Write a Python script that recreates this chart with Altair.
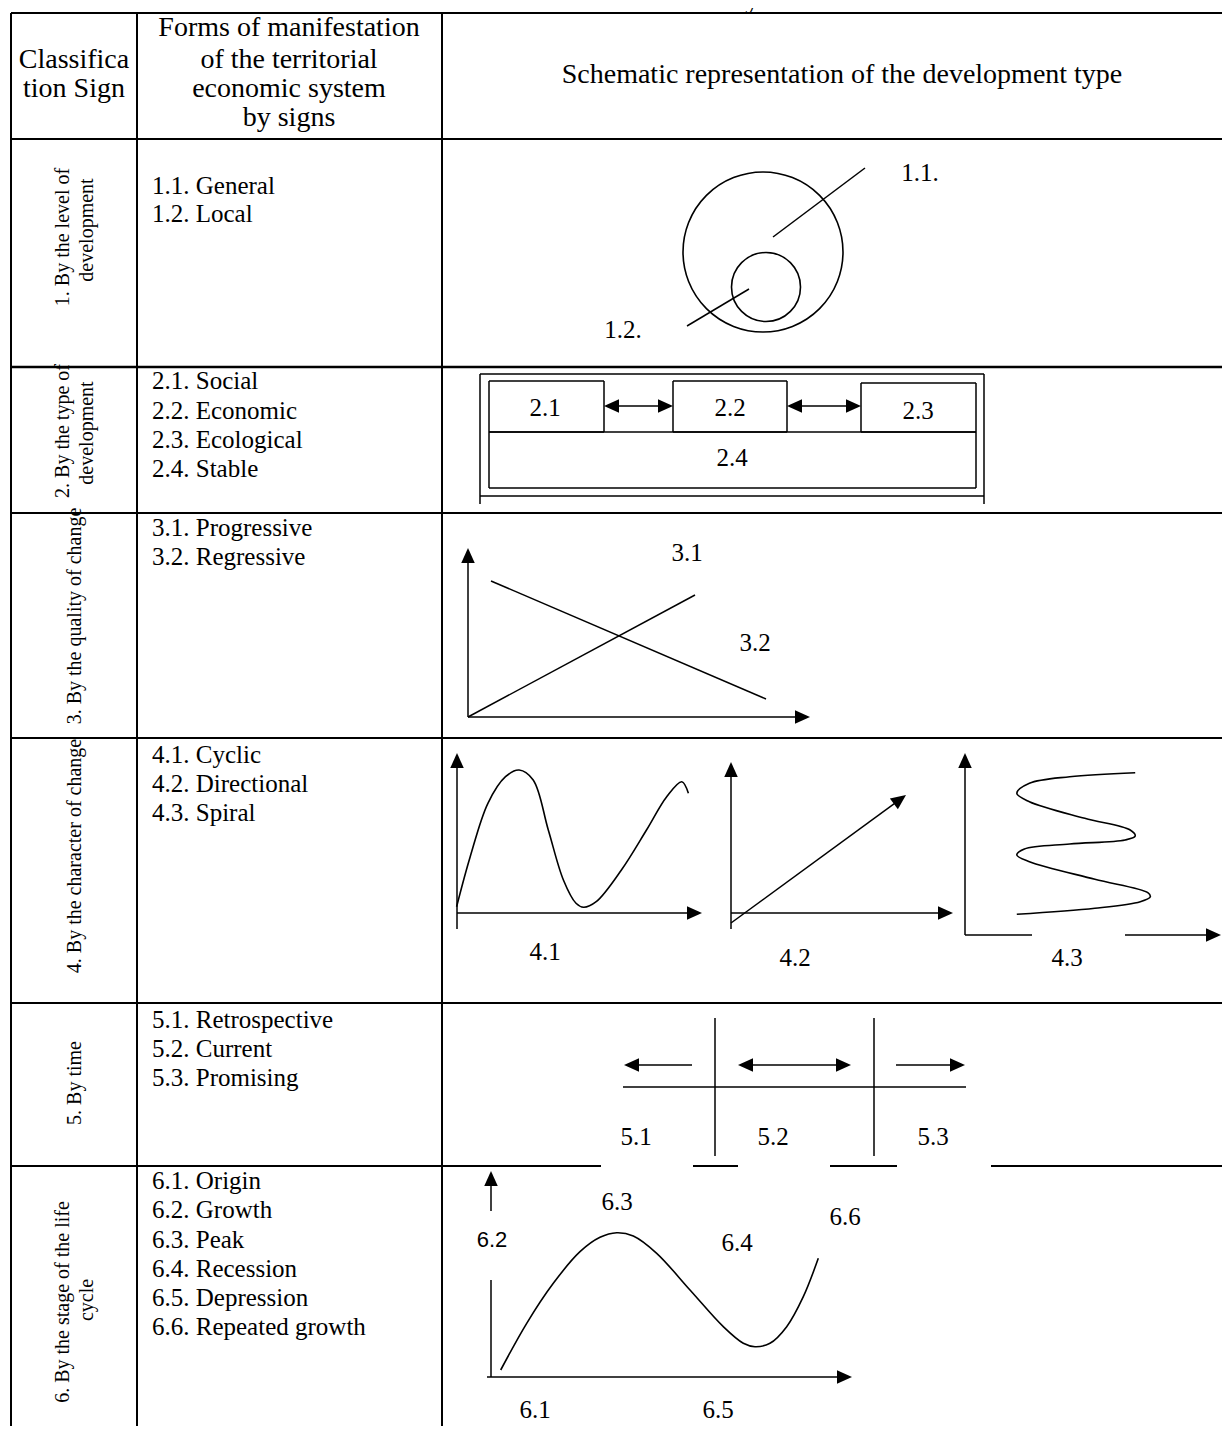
import math
import altair as alt
import pandas as pd

# ---------------- canvas (diagram coordinates = reference pixels) ----------------
W, H = 1214, 1418
X0, Y0 = 8, 8
SERIF = "Liberation Serif"
SANS = "Liberation Sans"

# ---------------- table grid ----------------
# (x1, y1, x2, y2, stroke width)
TABLE_LINES = [
    (11, 13, 1230, 13, 2),
    (11, 139, 1230, 139, 2),
    (11, 367, 1230, 367, 2.5),
    (11, 513, 1230, 513, 2),
    (11, 738, 1230, 738, 2),
    (11, 1003, 1230, 1003, 2),
    (11, 1166, 601, 1166, 2), (693, 1166, 738, 1166, 2),
    (830, 1166, 897, 1166, 2), (991, 1166, 1230, 1166, 2),
    (11, 13, 11, 1434, 2),
    (137, 13, 137, 1434, 2),
    (442, 13, 442, 1434, 2),
]

# ---------------- schematic line segments (no heads) ----------------
LINES = [
    # 1. leader lines
    (773, 237, 865, 168), (687, 326, 749, 289),
    # 2. outer frame
    (480, 374, 984, 374), (480, 374, 480, 504), (984, 374, 984, 504), (480, 496, 984, 496),
    # 3. lines 3.1 and 3.2
    (468, 717, 695, 595), (491, 581, 766, 699),
    # 4.3 broken horizontal axis
    (965, 935, 1032, 935),
    # 5. time axis
    (623, 1087, 966, 1087), (715, 1018, 715, 1156), (874, 1018, 874, 1156),
    # 6. vertical axis stub
    (491, 1280, 491, 1377),
]

# boxes of row 2: (x1, y1, x2, y2)
BOXES = [
    (489, 381, 604, 432), (673, 381, 787, 432), (861, 383, 976, 432), (489, 432, 976, 488),
]

# arrows: (x_from, y_from, x_tip, y_tip, both_heads)
ARROWS = [
    (604, 406, 673, 406, True), (787, 406, 861, 406, True),
    (468, 717, 468, 548, False), (468, 717, 810, 717, False),
    (457, 929, 457, 753, False), (457, 913, 702, 913, False),
    (731, 929, 731, 762, False), (731, 913, 953, 913, False), (731, 923, 906, 795, False),
    (965, 935, 965, 753, False), (1125, 935, 1221, 935, False),
    (692, 1065, 624, 1065, False), (738, 1065, 851, 1065, True), (896, 1065, 965, 1065, False),
    (491, 1211, 491, 1171, False), (487, 1377, 852, 1377, False),
]

# circles: (cx, cy, diameter)
CIRCLES = [(763, 252, 160), (766, 287, 69)]

# curves
CURVE_41 = [(456.6, 906.7), (470.2, 856.7), (487.9, 803.3), (505.5, 776.7), (519.1, 770.0),
            (533.2, 780.0), (548.3, 830.0), (563.4, 880.0), (576.0, 903.3), (583.6, 907.3),
            (596.2, 901.7), (621.4, 870.0), (646.5, 830.0), (666.7, 796.7), (681.8, 781.7),
            (688.4, 793.3)]
CURVE_43 = [(1135.2, 772.7), (1069.7, 776.7), (1029.4, 783.3), (1016.8, 793.3), (1029.4, 801.7),
            (1084.8, 818.3), (1130.2, 830.0), (1135.2, 836.0), (1125.1, 840.0), (1069.7, 844.0),
            (1024.4, 849.0), (1016.8, 855.0), (1029.4, 861.7), (1094.9, 879.3), (1147.8, 892.7),
            (1150.3, 896.7), (1140.3, 901.7), (1094.9, 908.3), (1016.8, 914.3)]
CURVE_6 = [(500.7, 1370.0), (526.7, 1323.3), (553.3, 1283.3), (580.0, 1251.7), (600.0, 1237.3),
           (616.7, 1232.7), (633.3, 1236.0), (656.7, 1253.3), (690.0, 1290.0), (723.3, 1326.7),
           (743.3, 1343.3), (755.0, 1346.7), (770.0, 1343.3), (786.7, 1326.7), (803.3, 1296.7),
           (818.3, 1258.3)]

# ---------------- texts ----------------
TITLE = [("of the Territorial Economic System", 615, 0)]
HEADER = [
    ("Classifica", 74, 60), ("tion Sign", 74, 89),
    ("Forms of manifestation", 289, 28), ("of the territorial", 289, 60),
    ("economic system", 289, 89), ("by signs", 289, 118),
    ("Schematic representation of the development type", 842, 75),
]
ROTATED = [
    ("1. By the level of", 63, 237), ("development", 87, 230),
    ("2. By the type of", 63, 431), ("development", 87, 433),
    ("3. By the quality of change", 75, 616),
    ("4. By the character of change", 75, 856),
    ("5. By time", 75, 1083),
    ("6. By the stage of the life", 63, 1302), ("cycle", 87, 1300),
]
ITEMS = [
    ("1.1. General", 186), ("1.2. Local", 214),
    ("2.1. Social", 381), ("2.2. Economic", 411), ("2.3. Ecological", 440), ("2.4. Stable", 469),
    ("3.1. Progressive", 528), ("3.2. Regressive", 557),
    ("4.1. Cyclic", 755), ("4.2. Directional", 784), ("4.3. Spiral", 813),
    ("5.1. Retrospective", 1020), ("5.2. Current", 1049), ("5.3. Promising", 1078),
    ("6.1. Origin", 1181), ("6.2. Growth", 1210), ("6.3. Peak", 1240),
    ("6.4. Recession", 1269), ("6.5. Depression", 1298), ("6.6. Repeated growth", 1327),
]
ITEM_X = 152
LABELS = [
    ("1.1.", 920, 173), ("1.2.", 623, 330),
    ("2.1", 545, 408), ("2.2", 730, 408), ("2.3", 918, 411), ("2.4", 732, 458),
    ("3.1", 687, 553), ("3.2", 755, 643),
    ("4.1", 545, 952), ("4.2", 795, 958), ("4.3", 1067, 958),
    ("5.1", 636, 1137), ("5.2", 773, 1137), ("5.3", 933, 1137),
    ("6.3", 617, 1202), ("6.4", 737, 1243), ("6.6", 845, 1217),
    ("6.1", 535, 1410), ("6.5", 718, 1410),
]
LABELS_SANS = [("6.2", 492, 1240)]

# ---------------- scales ----------------
xs = alt.Scale(domain=[X0, X0 + W], nice=False, zero=False)
ys = alt.Scale(domain=[Y0, Y0 + H], nice=False, zero=False, reverse=True)


def ex(f="x"):
    return alt.X(f"{f}:Q", scale=xs, axis=None)


def ey(f="y"):
    return alt.Y(f"{f}:Q", scale=ys, axis=None)


# ---------------- build tables ----------------
seg_rows = []
for x1, y1, x2, y2, w in TABLE_LINES:
    seg_rows.append(dict(x=x1, y=y1, x2=x2, y2=y2, w=w))
for x1, y1, x2, y2 in LINES:
    seg_rows.append(dict(x=x1, y=y1, x2=x2, y2=y2, w=1.5))
for x1, y1, x2, y2 in BOXES:
    for a, b, c, d in [(x1, y1, x2, y1), (x2, y1, x2, y2), (x1, y2, x2, y2), (x1, y1, x1, y2)]:
        seg_rows.append(dict(x=a, y=b, x2=c, y2=d, w=1.5))

head_rows = []
HEAD_BACK = 6
for x1, y1, x2, y2, both in ARROWS:
    L = math.hypot(x2 - x1, y2 - y1)
    ux, uy = (x2 - x1) / L, (y2 - y1) / L
    ang = math.degrees(math.atan2(y2 - y1, x2 - x1)) % 360
    head_rows.append(dict(x=x2, y=y2, a=ang))
    sx, sy = x1, y1
    if both:
        head_rows.append(dict(x=x1, y=y1, a=(ang + 180) % 360))
        sx, sy = x1 + ux * HEAD_BACK, y1 + uy * HEAD_BACK
    seg_rows.append(dict(x=sx, y=sy, x2=x2 - ux * HEAD_BACK, y2=y2 - uy * HEAD_BACK, w=1.5))

seg_df = pd.DataFrame(seg_rows)
head_df = pd.DataFrame(head_rows)
circ_df = pd.DataFrame([dict(x=cx, y=cy, s=d * d) for cx, cy, d in CIRCLES])

curve_rows = []
for name, pts in [("c41", CURVE_41), ("c43", CURVE_43), ("c6", CURVE_6)]:
    for i, (px, py) in enumerate(pts):
        curve_rows.append(dict(c=name, i=i, x=px, y=py))
curve_df = pd.DataFrame(curve_rows)

# ---------------- layers ----------------
segments = alt.Chart(seg_df).mark_rule(color="black").encode(
    x=ex(), y=ey(), x2="x2:Q", y2="y2:Q",
    strokeWidth=alt.StrokeWidth("w:Q", scale=None),
)

ARROW_PATH = "M0,0L-2,-0.9L-2,0.9Z"
heads = alt.Chart(head_df).mark_point(
    shape=ARROW_PATH, filled=True, color="black", opacity=1, size=225, strokeWidth=0
).encode(x=ex(), y=ey(), angle=alt.Angle("a:Q", scale=None))

circles = alt.Chart(circ_df).mark_point(
    shape="circle", filled=False, color="black", opacity=1, strokeWidth=1.6
).encode(x=ex(), y=ey(), size=alt.Size("s:Q", scale=None))

curves = alt.Chart(curve_df).mark_line(
    color="black", strokeWidth=1.6, interpolate="catmull-rom"
).encode(x=ex(), y=ey(), detail="c:N", order=alt.Order("i:Q"))


def text_layer(rows, size, font=SERIF, align="center", angle=0, clip=False):
    df = pd.DataFrame(rows, columns=["t", "x", "y"])
    kw = dict(font=font, fontSize=size, align=align, baseline="middle", color="black")
    if angle:
        kw["angle"] = angle
    if clip:
        kw["clip"] = True
    return alt.Chart(df).mark_text(**kw).encode(x=ex(), y=ey(), text="t:N")


title = text_layer(TITLE, 28, clip=True)
header = text_layer(HEADER, 28)
rotated = text_layer(ROTATED, 20, angle=270)
items = text_layer([(t, ITEM_X, y) for t, y in ITEMS], 25, align="left")
labels = text_layer(LABELS, 25)
labels_sans = text_layer(LABELS_SANS, 22, font=SANS)

chart = alt.layer(
    segments, heads, circles, curves, title, header, rotated, items, labels, labels_sans
).properties(
    width=W, height=H, padding=0,
    autosize=alt.AutoSizeParams(type="none"),
    background="white",
).configure_view(stroke=None)

chart.save("out.html", embed_options={"renderer": "svg", "actions": False})
